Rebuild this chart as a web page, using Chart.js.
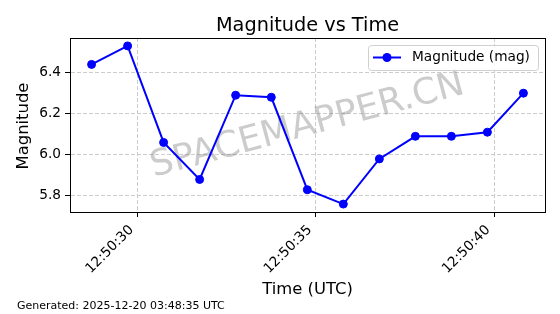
<!DOCTYPE html>
<html>
<head>
<meta charset="utf-8">
<script src="https://cdn.jsdelivr.net/npm/chart.js@4/dist/chart.umd.min.js"></script>
<style>
  html, body { margin: 0; padding: 0; background: #fff; }
  #wrap { width: 560px; height: 314px; }
</style>
</head>
<body>
<div id="wrap"><canvas id="magChart" width="560" height="314"></canvas></div>
<script>
// values
var times = ["12:50:28.71", "12:50:29.72", "12:50:30.73", "12:50:31.74", "12:50:32.75", "12:50:33.75",
             "12:50:34.76", "12:50:35.77", "12:50:36.78", "12:50:37.79", "12:50:38.80", "12:50:39.81", "12:50:40.82"];
var magnitudes = [6.44, 6.53, 6.06, 5.88, 6.29, 6.28, 5.83, 5.76, 5.98, 6.09, 6.09, 6.11, 6.30];
var timeTicks = ["12:50:30", "12:50:35", "12:50:40"];
var magTicks = [5.8, 6.0, 6.2, 6.4];

var seriesLabel = 'Magnitude (mag)';
var chartTitle = 'Magnitude vs Time';
var xTitle = 'Time (UTC)';
var yTitle = 'Magnitude';
var watermark = 'SPACEMAPPER.CN';
var footer = 'Generated: 2025-12-20 03:48:35 UTC';

var FONT = "'DejaVu Sans', 'Liberation Sans', sans-serif";

function toSec(t) {
    var p = t.split(':');
    return (+p[0]) * 3600 + (+p[1]) * 60 + (+p[2]);
}
function pad(n) { return (n < 10 ? '0' : '') + n; }
function fmtSec(s) {
    s = Math.round(s);
    return pad(Math.floor(s / 3600)) + ':' + pad(Math.floor(s / 60) % 60) + ':' + pad(s % 60);
}

var points = times.map(function (t, i) { return { x: toSec(t), y: magnitudes[i] }; });

// matplotlib style 5% margins
var xs = points.map(function (p) { return p.x; });
var xMin = Math.min.apply(null, xs), xMax = Math.max.apply(null, xs);
var yMin = Math.min.apply(null, magnitudes), yMax = Math.max.apply(null, magnitudes);
var xm = (xMax - xMin) * 0.05, ym = (yMax - yMin) * 0.05;

var decorPlugin = {
    id: 'decor',
    beforeDatasetsDraw: function (chart) {
        var ctx = chart.ctx, a = chart.chartArea;
        ctx.save();
        ctx.translate((a.left + a.right) / 2, (a.top + a.bottom) / 2 + 1);
        ctx.rotate(-15 * Math.PI / 180);
        ctx.font = '36px ' + FONT;
        ctx.fillStyle = 'rgba(128,128,128,0.4)';
        ctx.textAlign = 'center';
        ctx.textBaseline = 'middle';
        ctx.fillText(watermark, 0, 0);
        ctx.restore();
    },
    afterDatasetsDraw: function (chart) {
        var ctx = chart.ctx, a = chart.chartArea;
        ctx.save();
        // frame (top/right spines)
        ctx.strokeStyle = '#000';
        ctx.lineWidth = 1;
        ctx.strokeRect(Math.round(a.left) + 0.5, Math.round(a.top) + 0.5,
                       Math.round(a.right - a.left), Math.round(a.bottom - a.top));

        // legend
        var ds = chart.data.datasets[0];
        var bx = 368.5, by = 45.5, bw = 170, bh = 25;
        ctx.beginPath();
        ctx.roundRect(bx, by, bw, bh, 3);
        ctx.fillStyle = 'rgba(255,255,255,0.8)';
        ctx.fill();
        ctx.strokeStyle = '#d0d0d0';
        ctx.stroke();
        var ly = 57.5;
        ctx.strokeStyle = ds.borderColor;
        ctx.lineWidth = 2;
        ctx.beginPath();
        ctx.moveTo(373, ly);
        ctx.lineTo(401, ly);
        ctx.stroke();
        ctx.beginPath();
        ctx.arc(387, ly, 4.5, 0, Math.PI * 2);
        ctx.fillStyle = ds.pointBackgroundColor;
        ctx.fill();
        ctx.font = '13.7px ' + FONT;
        ctx.fillStyle = '#000';
        ctx.textAlign = 'left';
        ctx.textBaseline = 'middle';
        ctx.fillText(ds.label, 412, ly);
        ctx.restore();
    },
    afterDraw: function (chart) {
        var ctx = chart.ctx, a = chart.chartArea;
        var cx = (a.left + a.right) / 2, cy = (a.top + a.bottom) / 2;
        ctx.save();
        ctx.fillStyle = '#000';
        ctx.textAlign = 'center';
        ctx.textBaseline = 'alphabetic';
        ctx.font = '19.3px ' + FONT;
        ctx.fillText(chartTitle, cx, 31);
        ctx.font = '16.4px ' + FONT;
        ctx.textBaseline = 'middle';
        ctx.fillText(xTitle, cx, 290);
        ctx.save();
        ctx.translate(24, cy + 1);
        ctx.rotate(-Math.PI / 2);
        ctx.fillText(yTitle, 0, 0);
        ctx.restore();
        ctx.font = '11px ' + FONT;
        ctx.textAlign = 'left';
        ctx.textBaseline = 'alphabetic';
        ctx.fillText(footer, 17, 309);
        ctx.restore();
    }
};

var gridCommon = {
    color: '#cccccc',
    lineWidth: 1,
    tickColor: '#000',
    tickLength: 5,
    tickWidth: 1
};

new Chart(document.getElementById('magChart'), {
    type: 'line',
    data: {
        datasets: [{
            label: seriesLabel,
            data: points,
            borderColor: '#0000ff',
            backgroundColor: '#0000ff',
            pointBackgroundColor: '#0000ff',
            pointBorderColor: '#0000ff',
            borderWidth: 2,
            pointRadius: 4,
            pointBorderWidth: 1,
            tension: 0,
            fill: false
        }]
    },
    options: {
        responsive: false,
        animation: false,
        devicePixelRatio: 1,
        layout: { padding: { top: 38, right: 15, bottom: 0, left: 0 } },
        plugins: {
            legend: { display: false },
            title: { display: false },
            tooltip: { enabled: false }
        },
        scales: {
            x: {
                type: 'linear',
                min: xMin - xm,
                max: xMax + xm,
                afterFit: function (s) { s.height = 102; },
                afterBuildTicks: function (s) {
                    s.ticks = timeTicks.map(function (t) { return { value: toSec(t) }; });
                },
                ticks: {
                    autoSkip: false,
                    minRotation: 45,
                    maxRotation: 45,
                    padding: 5,
                    labelOffset: -6,
                    color: '#000',
                    font: { family: FONT, size: 13.7 },
                    callback: function (v) { return fmtSec(v); }
                },
                grid: gridCommon,
                border: { color: '#000', width: 1, dash: [4, 2] }
            },
            y: {
                min: yMin - ym,
                max: yMax + ym,
                afterFit: function (s) { s.width = 70; },
                afterBuildTicks: function (s) {
                    s.ticks = magTicks.map(function (v) { return { value: v }; });
                },
                ticks: {
                    padding: 4,
                    color: '#000',
                    font: { family: FONT, size: 13.7 },
                    callback: function (v) { return v.toFixed(1); }
                },
                grid: gridCommon,
                border: { color: '#000', width: 1, dash: [4, 2] }
            }
        }
    },
    plugins: [decorPlugin]
});
</script>
</body>
</html>
